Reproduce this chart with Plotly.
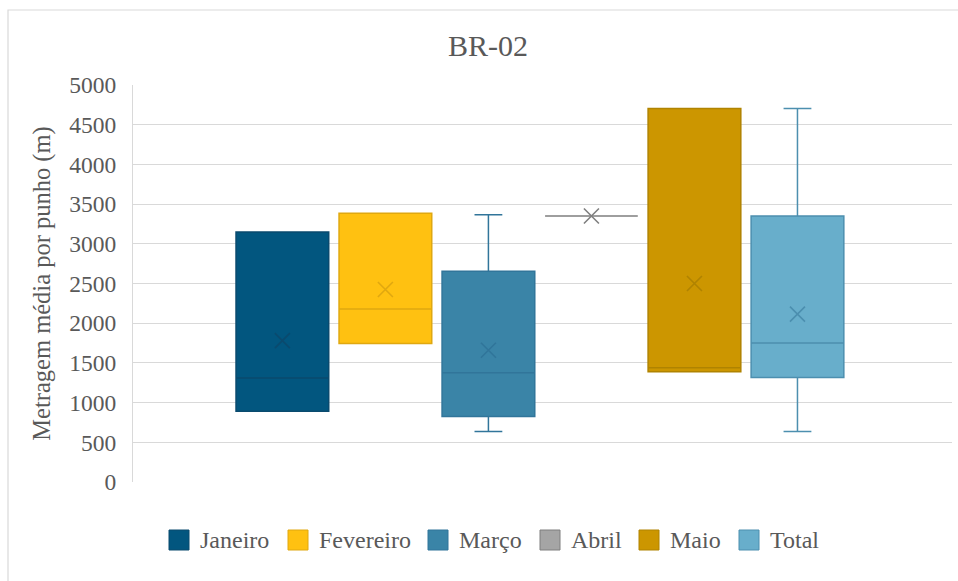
import plotly.graph_objects as go

# Monthly distribution of average length per fist (m), station BR-02
months = ["Janeiro", "Fevereiro", "Março", "Abril", "Maio", "Total"]
q1 = [890, 1745, 825, 3350, 1390, 1315]
median = [1310, 2180, 1375, 3350, 1440, 1750]
q3 = [3150, 3385, 2655, 3350, 4705, 3350]
lower = [890, 1745, 635, 3350, 1390, 635]
upper = [3150, 3385, 3365, 3350, 4705, 4705]
mean = [1780, 2425, 1660, 3350, 2500, 2115]

fills = ["#02567F", "#FFC111", "#3A84A7", "#A5A5A5", "#CC9600", "#68AECB"]
lines = ["#0A4A6E", "#E0A810", "#31759A", "#7F7F7F", "#B08300", "#4C8FAF"]

FONT = "Liberation Serif"
GREY = "#595959"

# plot area in pixels (left, right, top, bottom)
PL, PR, PT, PB = 133, 952, 85, 482


def px_x(v):
    return (v - PL) / (PR - PL)


def px_y(v):
    return (PB - v) / (PB - PT)


fig = go.Figure()
for i, name in enumerate(months):
    fig.add_trace(go.Box(
        name=name,
        x=[i],
        q1=[q1[i]], median=[median[i]], q3=[q3[i]],
        lowerfence=[lower[i]], upperfence=[upper[i]],
        width=0.9,
        whiskerwidth=0.3,
        fillcolor=fills[i],
        line=dict(color=lines[i], width=1.5),
        boxpoints=False,
        hoverinfo="skip",
        showlegend=False,
    ))
for i, name in enumerate(months):
    fig.add_trace(go.Scatter(
        x=[i], y=[mean[i]],
        mode="markers",
        marker=dict(symbol="x-thin", size=15,
                    line=dict(color=lines[i], width=1.6)),
        showlegend=False,
        hoverinfo="skip",
    ))

# legend drawn as swatches + labels along the bottom
legend_left = [169, 288, 428, 540, 639, 739]
shapes = [dict(type="rect", xref="paper", yref="paper",
               x0=px_x(8), x1=px_x(962), y0=px_y(590), y1=px_y(10),
               line=dict(color="#D9D9D9", width=1.2), layer="below")]
annotations = []
for i, name in enumerate(months):
    lx = legend_left[i]
    shapes.append(dict(type="rect", xref="paper", yref="paper",
                       x0=px_x(lx), x1=px_x(lx + 20),
                       y0=px_y(550), y1=px_y(530),
                       fillcolor=fills[i], line=dict(color=lines[i], width=1)))
    annotations.append(dict(text=name, xref="paper", yref="paper",
                            x=px_x(lx + 29), y=px_y(540),
                            xanchor="left", yanchor="middle", showarrow=False,
                            font=dict(size=24, color=GREY, family=FONT)))

fig.update_layout(
    width=958, height=581,
    margin=dict(l=PL, r=958 - PR, t=PT, b=581 - PB),
    paper_bgcolor="white",
    plot_bgcolor="white",
    font=dict(family=FONT, color=GREY, size=23),
    title=dict(text="BR-02", x=488 / 958, xanchor="center",
               y=1 - 45 / 581, yanchor="middle", yref="container",
               font=dict(size=30, color=GREY, family=FONT)),
    xaxis=dict(range=[-1.45, 6.5], showticklabels=False, showgrid=False,
               zeroline=False, showline=False, fixedrange=True),
    yaxis=dict(range=[0, 5000], dtick=500, showgrid=True, gridcolor="#D9D9D9",
               gridwidth=1, zeroline=False, showline=True, linecolor="#D9D9D9",
               linewidth=1, ticks="", ticklabelstandoff=11,
               tickfont=dict(size=23.5, color=GREY, family=FONT),
               title=dict(text="Metragem média por punho (m)", standoff=11,
                          font=dict(size=24.5, color=GREY, family=FONT))),
    showlegend=False,
    shapes=shapes,
    annotations=annotations,
)

fig.write_html("out.html")
